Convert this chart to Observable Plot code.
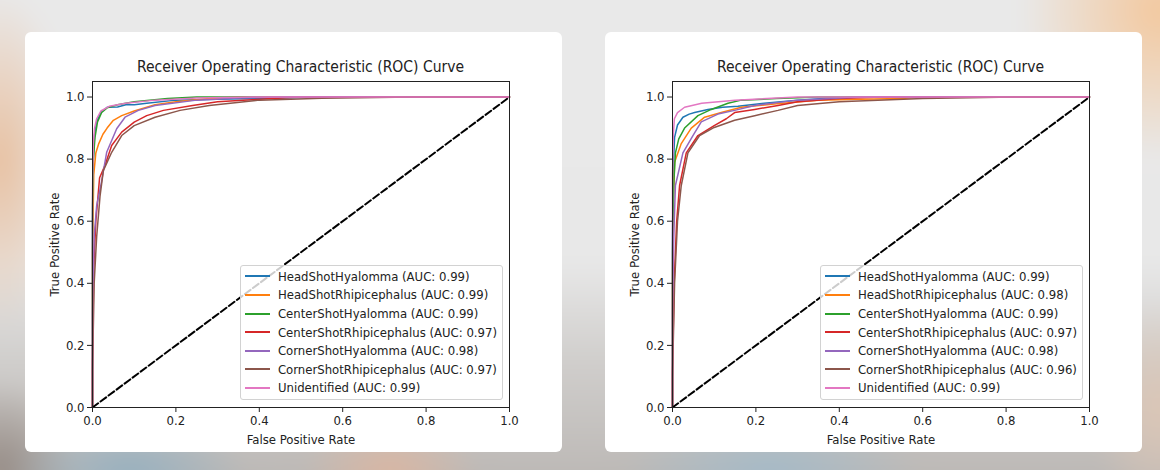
<!DOCTYPE html>
<html>
<head>
<meta charset="utf-8">
<script src="https://cdn.jsdelivr.net/npm/d3@7"></script>
<script src="https://cdn.jsdelivr.net/npm/@observablehq/plot@0.6"></script>
<style>
  html, body { margin: 0; padding: 0; }
  body { width: 1160px; height: 470px; overflow: hidden; }
  #stage { position: relative; width: 1160px; height: 470px; overflow: hidden; }
  .bg {
    position: absolute; inset: -30px;
    filter: blur(10px);
    background:
      radial-gradient(ellipse 70px 170px at 30px 190px, rgba(232,192,160,1), rgba(232,192,160,0)),
      radial-gradient(ellipse 140px 150px at 1190px 40px, rgba(243,200,158,1), rgba(243,200,158,0)),
      radial-gradient(ellipse 70px 110px at 1190px 440px, rgba(222,198,180,0.9), rgba(222,198,180,0)),
      radial-gradient(ellipse 120px 50px at 160px 500px, rgba(150,176,192,1), rgba(150,176,192,0)),
      radial-gradient(ellipse 90px 50px at 420px 500px, rgba(218,182,162,1), rgba(218,182,162,0)),
      radial-gradient(ellipse 150px 50px at 800px 500px, rgba(164,186,200,1), rgba(164,186,200,0)),
      radial-gradient(ellipse 80px 90px at 30px 500px, rgba(150,140,134,1), rgba(150,140,134,0)),
      linear-gradient(to bottom, #e9e9e9 0px, #e8e8e8 290px, #d0cecc 390px, #b8b4b1 530px);
  }
  .card {
    position: absolute; top: 32px; width: 537px; height: 420px;
    background: #fff; border-radius: 6px;
  }
  .title {
    position: absolute; left: 67px; width: 417px; top: 26px;
    text-align: center; white-space: nowrap;
    font-family: "DejaVu Sans Condensed", "DejaVu Sans", sans-serif;
    font-stretch: condensed;
    font-size: 15.5px; line-height: 18px; color: #222;
  }
  .plot { position: absolute; left: 0; top: 40px; }
  .legend {
    position: absolute; right: 59px; bottom: 52px;
    background: rgba(255,255,255,0.8);
    border: 1px solid #d2d2d2; border-radius: 3px;
    padding: 1px 5px 2px 4px;
    font-family: "DejaVu Sans Condensed", "DejaVu Sans", sans-serif;
    font-stretch: condensed;
    font-size: 13px; color: #222;
  }
  .legend .row { display: flex; align-items: center; height: 18.56px; white-space: nowrap; }
  .legend .swatch { width: 25px; height: 0; border-top: 2px solid; margin-right: 8px; }
</style>
</head>
<body>
<div id="stage">
  <div class="bg"></div>
</div>
<script>
// Class names, in plotting order
const classNames = [
  "HeadShotHyalomma", "HeadShotRhipicephalus", "CenterShotHyalomma",
  "CenterShotRhipicephalus", "CornerShotHyalomma", "CornerShotRhipicephalus",
  "Unidentified"
];
const palette = ["#1f77b4", "#ff7f0e", "#2ca02c", "#d62728", "#9467bd", "#8c564b", "#e377c2"];

// First model: AUC per class and ROC points [fpr, tpr]
const aucA = [0.99, 0.99, 0.99, 0.97, 0.98, 0.97, 0.99];
const rocA_headHya = [[0,0],[0,0.6],[0.002,0.8],[0.005,0.88],[0.01,0.92],[0.02,0.95],[0.035,0.967],[0.06,0.968],[0.08,0.975],[0.1,0.975],[0.13,0.98],[0.2,0.99],[0.3,0.993],[0.45,0.997],[0.56,1],[1,1]];
const rocA_headRhi = [[0,0],[0,0.5],[0.003,0.75],[0.008,0.82],[0.015,0.85],[0.025,0.88],[0.035,0.9],[0.05,0.925],[0.07,0.94],[0.1,0.955],[0.15,0.975],[0.2,0.985],[0.28,0.995],[0.35,1],[1,1]];
const rocA_centerHya = [[0,0],[0,0.65],[0.002,0.8],[0.006,0.87],[0.012,0.92],[0.022,0.95],[0.035,0.965],[0.06,0.975],[0.1,0.985],[0.18,0.995],[0.25,1],[1,1]];
const rocA_centerRhi = [[0,0],[0,0.15],[0.003,0.45],[0.008,0.6],[0.017,0.74],[0.03,0.78],[0.046,0.844],[0.07,0.887],[0.1,0.919],[0.13,0.94],[0.17,0.957],[0.24,0.973],[0.3,0.985],[0.4,0.993],[0.5,1],[1,1]];
const rocA_cornerHya = [[0,0],[0,0.3],[0.004,0.55],[0.01,0.65],[0.02,0.715],[0.034,0.822],[0.058,0.898],[0.078,0.935],[0.11,0.957],[0.15,0.973],[0.25,0.99],[0.35,0.997],[0.45,1],[1,1]];
const rocA_cornerRhi = [[0,0],[0,0.12],[0.004,0.4],[0.01,0.55],[0.018,0.68],[0.026,0.763],[0.046,0.822],[0.07,0.876],[0.1,0.908],[0.15,0.935],[0.21,0.957],[0.28,0.973],[0.4,0.99],[0.55,0.996],[0.77,1],[1,1]];
const rocA_unident = [[0,0],[0,0.7],[0.002,0.85],[0.005,0.9],[0.01,0.93],[0.02,0.955],[0.04,0.97],[0.08,0.98],[0.15,0.99],[0.25,0.997],[0.38,1],[1,1]];

// Second model
const aucB = [0.99, 0.98, 0.99, 0.97, 0.98, 0.96, 0.99];
const rocB_headHya = [[0,0],[0,0.55],[0.002,0.78],[0.005,0.87],[0.012,0.91],[0.025,0.935],[0.04,0.945],[0.053,0.95],[0.085,0.96],[0.12,0.967],[0.157,0.97],[0.22,0.98],[0.3,0.99],[0.38,0.997],[0.45,1],[1,1]];
const rocB_headRhi = [[0,0],[0,0.4],[0.002,0.65],[0.005,0.79],[0.021,0.85],[0.045,0.9],[0.077,0.935],[0.117,0.95],[0.165,0.967],[0.25,0.978],[0.35,0.99],[0.45,0.993],[0.55,0.995],[0.6,1],[1,1]];
const rocB_centerHya = [[0,0],[0,0.5],[0.003,0.72],[0.007,0.82],[0.015,0.865],[0.029,0.9],[0.061,0.94],[0.093,0.96],[0.133,0.98],[0.165,0.99],[0.25,0.995],[0.35,1],[1,1]];
const rocB_centerRhi = [[0,0],[0,0.12],[0.004,0.4],[0.01,0.6],[0.017,0.715],[0.033,0.82],[0.061,0.876],[0.1,0.908],[0.129,0.93],[0.149,0.95],[0.197,0.96],[0.253,0.973],[0.3,0.985],[0.4,0.995],[0.5,1],[1,1]];
const rocB_cornerHya = [[0,0],[0,0.3],[0.003,0.55],[0.007,0.715],[0.025,0.82],[0.049,0.876],[0.069,0.92],[0.109,0.945],[0.149,0.957],[0.197,0.973],[0.3,0.99],[0.45,1],[1,1]];
const rocB_cornerRhi = [[0,0],[0,0.1],[0.005,0.4],[0.012,0.6],[0.021,0.715],[0.037,0.82],[0.065,0.876],[0.1,0.902],[0.149,0.925],[0.197,0.94],[0.253,0.957],[0.3,0.973],[0.4,0.985],[0.6,0.995],[0.82,1],[1,1]];
const rocB_unident = [[0,0],[0,0.75],[0.002,0.88],[0.0045,0.93],[0.012,0.95],[0.029,0.967],[0.07,0.98],[0.15,0.99],[0.3,1],[1,1]];

// Chance diagonal
const chanceLine = [[0,0],[1,1]];
const axisTicks = [0, 0.2, 0.4, 0.6, 0.8, 1.0];

const panels = [
  {left: 25, auc: aucA, curves: [rocA_headHya, rocA_headRhi, rocA_centerHya, rocA_centerRhi, rocA_cornerHya, rocA_cornerRhi, rocA_unident]},
  {left: 605, auc: aucB, curves: [rocB_headHya, rocB_headRhi, rocB_centerHya, rocB_centerRhi, rocB_cornerHya, rocB_cornerRhi, rocB_unident]}
];

const font = '"DejaVu Sans Condensed", "DejaVu Sans", sans-serif';
const stage = document.getElementById("stage");

for (const panel of panels) {
  const rows = panel.curves.flatMap((pts, i) =>
    pts.map(([fpr, tpr]) => ({cls: classNames[i], fpr, tpr})));

  const card = document.createElement("div");
  card.className = "card";
  card.style.left = panel.left + "px";

  const title = document.createElement("div");
  title.className = "title";
  title.textContent = "Receiver Operating Characteristic (ROC) Curve";
  card.appendChild(title);

  const chart = Plot.plot({
    width: 537,
    height: 380,
    marginLeft: 67,
    marginRight: 53,
    marginTop: 9,
    marginBottom: 45,
    style: {fontFamily: font, fontSize: "13px", color: "#222", background: "transparent", fontStretch: "condensed"},
    x: {domain: [0, 1]},
    y: {domain: [0, 1.05]},
    color: {domain: classNames, range: palette},
    marks: [
      Plot.line(rows, {x: "fpr", y: "tpr", z: "cls", stroke: "cls", strokeWidth: 1.5}),
      Plot.line(chanceLine, {x: d => d[0], y: d => d[1], stroke: "#000", strokeWidth: 2, strokeDasharray: "7,3"}),
      Plot.frame({stroke: "#222", strokeWidth: 1}),
      Plot.axisX({ticks: axisTicks, tickFormat: d => d.toFixed(1), tickSize: 5, tickPadding: 3,
        label: "False Positive Rate", labelAnchor: "center", labelOffset: 36, labelArrow: "none"}),
      Plot.axisY({ticks: axisTicks, tickFormat: d => d.toFixed(1), tickSize: 5, tickPadding: 3,
        label: "True Positive Rate", labelAnchor: "center", labelOffset: 43, labelArrow: "none"})
    ]
  });
  const holder = document.createElement("div");
  holder.className = "plot";
  holder.appendChild(chart);
  card.appendChild(holder);

  const legend = document.createElement("div");
  legend.className = "legend";
  classNames.forEach((name, i) => {
    const row = document.createElement("div");
    row.className = "row";
    const sw = document.createElement("span");
    sw.className = "swatch";
    sw.style.borderTopColor = palette[i];
    const label = document.createElement("span");
    label.textContent = `${name} (AUC: ${panel.auc[i].toFixed(2)})`;
    row.appendChild(sw);
    row.appendChild(label);
    legend.appendChild(row);
  });
  card.appendChild(legend);

  stage.appendChild(card);
}
</script>
</body>
</html>
